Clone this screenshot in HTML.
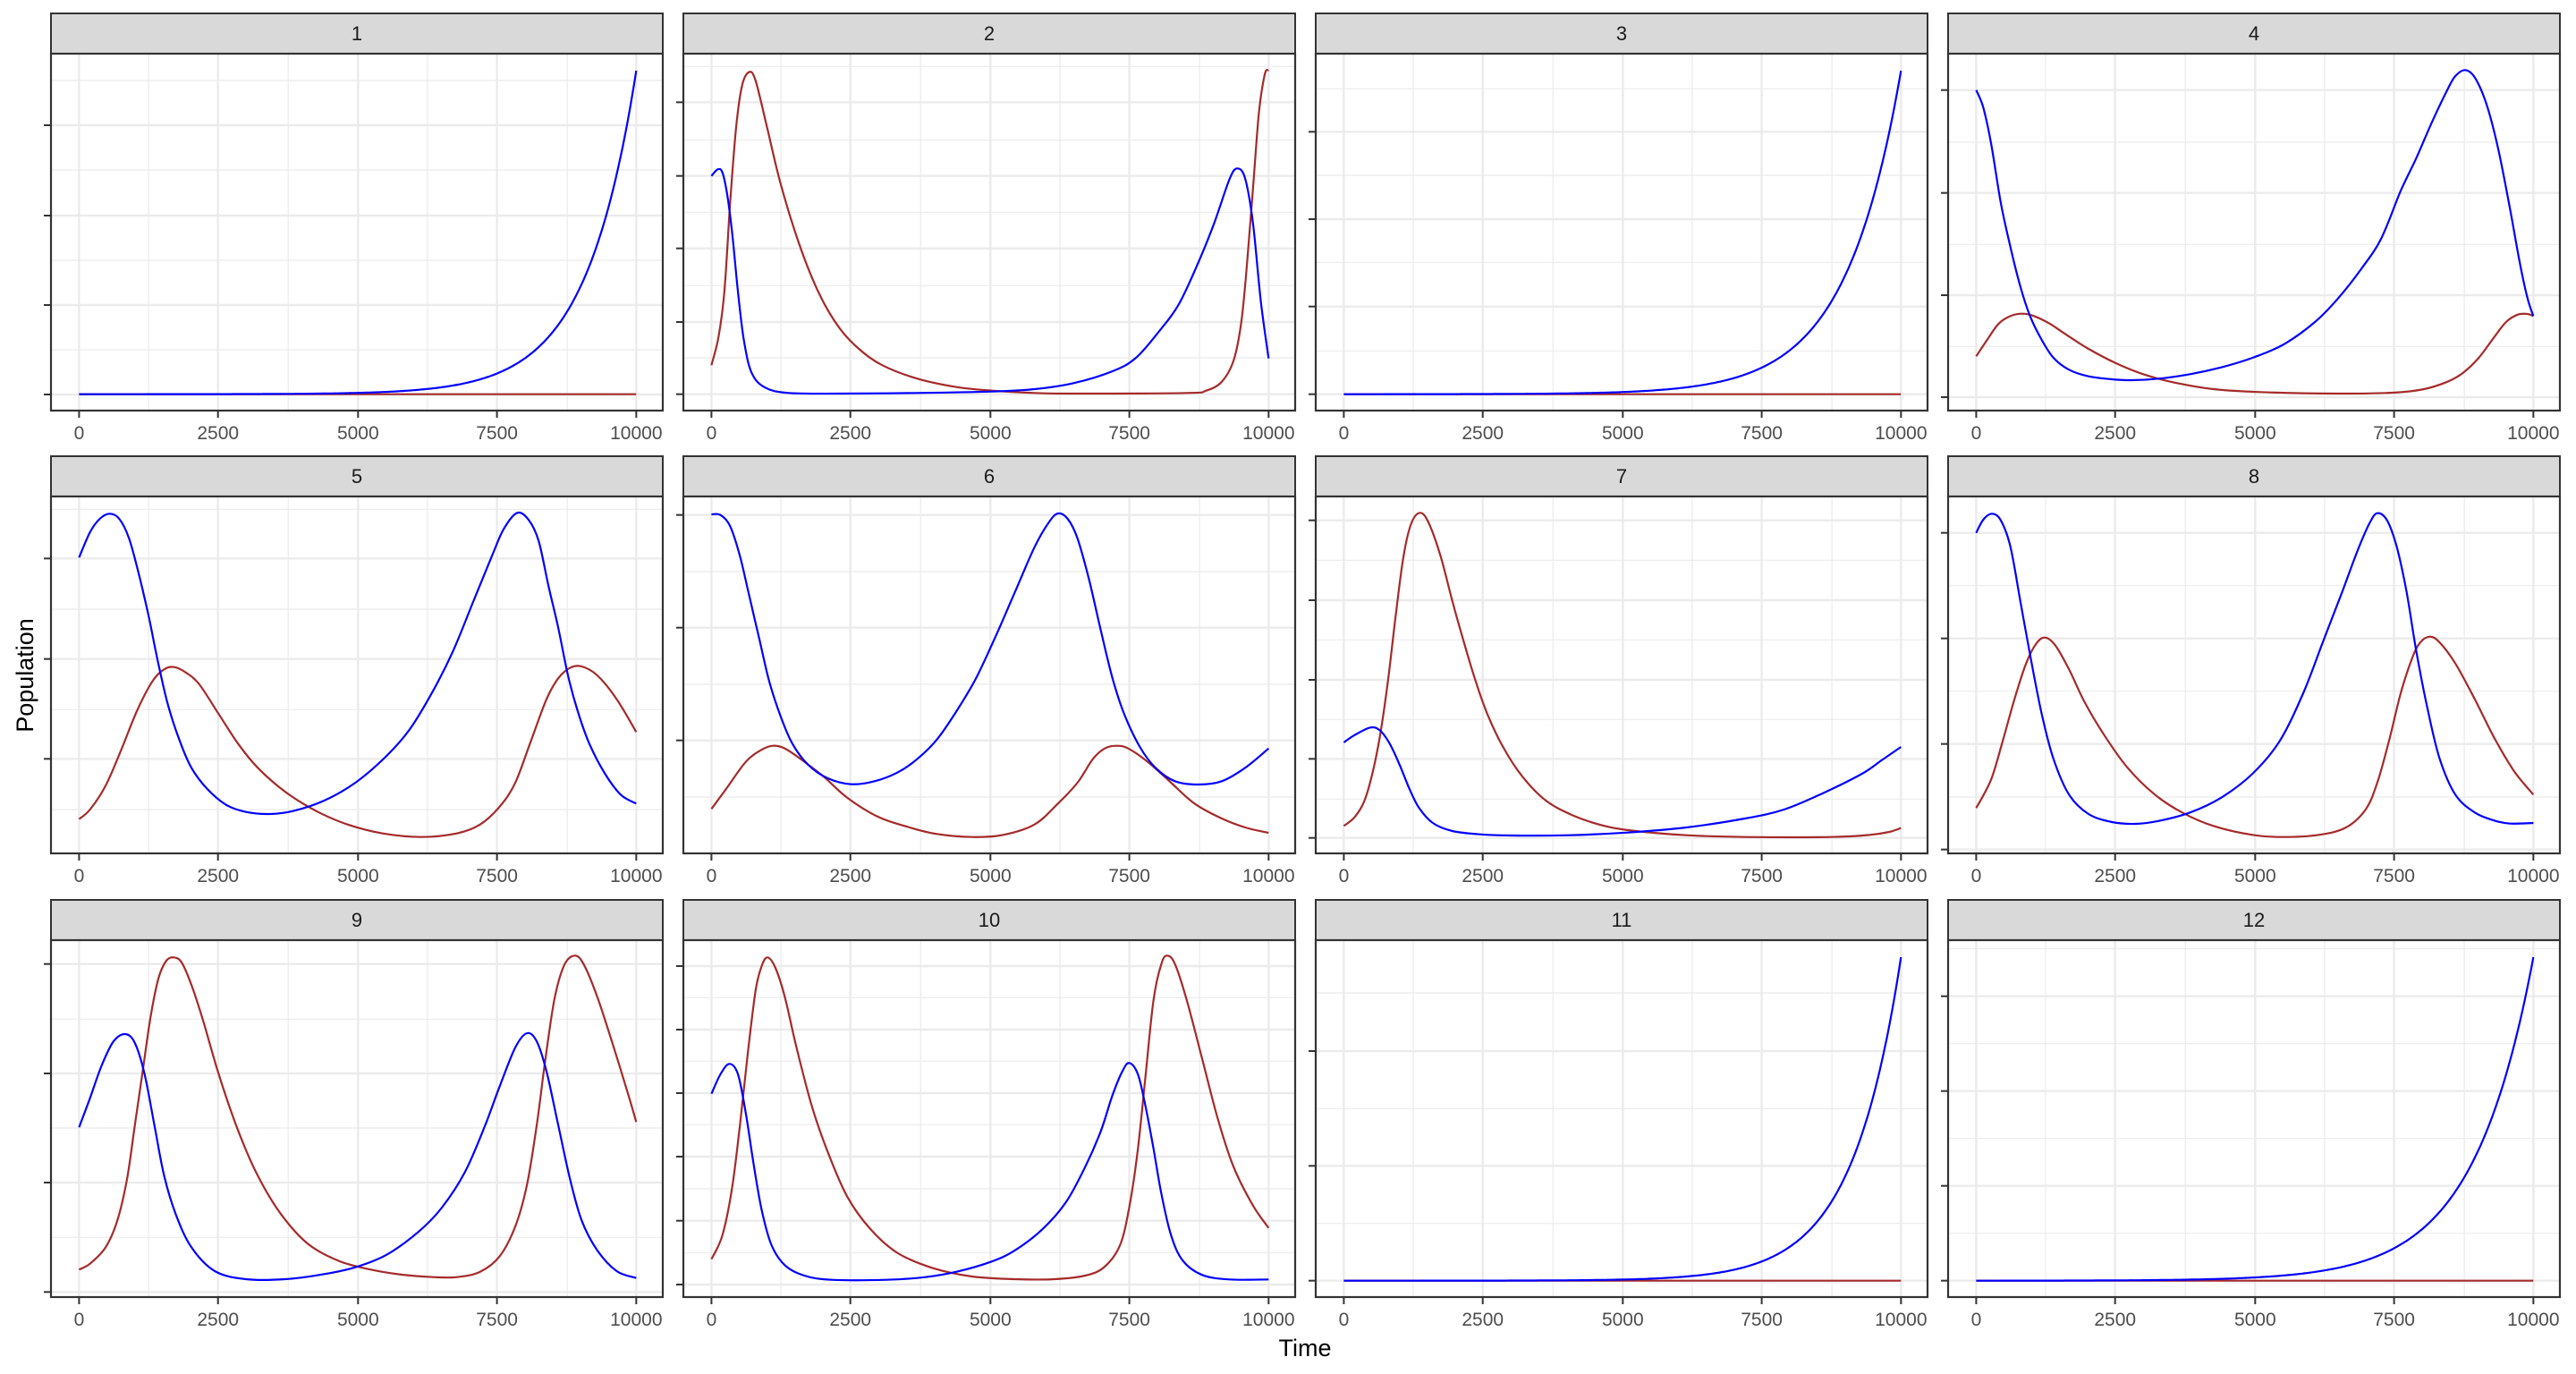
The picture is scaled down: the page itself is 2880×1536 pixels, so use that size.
<!DOCTYPE html>
<html><head><meta charset="utf-8"><style>
html,body{margin:0;padding:0;background:#fff;}
svg{display:block;}
text{font-family:"Liberation Sans",Arial,sans-serif;}
</style></head><body>
<svg id="s" width="2880" height="1536" xmlns="http://www.w3.org/2000/svg"></svg>
<script>
const cols=[57,764,1471,2178], rows=[15,510,1006], W=684, PH=399, SH=45;
const NS="http://www.w3.org/2000/svg";
const svg=document.getElementById('s');
let out='';
function px(X,c){return cols[c]+X*W/1568;}
function py(Y,r){return rows[r]+SH+Y/3;}
function smooth(pts,c,r){
  const P=pts.map(p=>[px(p[0],c),py(p[1],r)]);
  let d='M'+P[0][0].toFixed(1)+' '+P[0][1].toFixed(1);
  for(let i=0;i<P.length-1;i++){
    const p0=P[Math.max(0,i-1)],p1=P[i],p2=P[i+1],p3=P[Math.min(P.length-1,i+2)];
    const c1=[p1[0]+(p2[0]-p0[0])/6,p1[1]+(p2[1]-p0[1])/6];
    const c2=[p2[0]-(p3[0]-p1[0])/6,p2[1]-(p3[1]-p1[1])/6];
    d+=' C'+c1[0].toFixed(1)+' '+c1[1].toFixed(1)+' '+c2[0].toFixed(1)+' '+c2[1].toFixed(1)+' '+p2[0].toFixed(1)+' '+p2[1].toFixed(1);
  }
  return d;
}
function expPts(k){const a=[];for(let i=0;i<=200;i++){const t=i/200;const v=(Math.exp(k*t)-1)/(Math.exp(k)-1);a.push([72+t*1428,1142-v*1085]);}return a;}
const flat=[[72,1142],[1500,1142]];
const P={
1:{maj:[240,543,843,1143],min:[90,390,693,993],b:expPts(11),r:flat},
2:{maj:[163,410,653,900,1142],min:[43,290,532,778,1020],
b:[[72,410],[88,388],[100,398],[112,470],[125,600],[140,800],[155,960],[175,1070],[210,1120],[270,1138],[400,1140],[600,1138],[790,1133],[900,1125],[1000,1105],[1100,1065],[1160,1020],[1220,930],[1270,840],[1320,700],[1360,570],[1400,420],[1420,385],[1440,420],[1460,570],[1480,830],[1500,1022]],
r:[[72,1045],[90,950],[105,800],[120,500],[135,250],[150,110],[168,62],[185,90],[215,250],[250,440],[300,650],[350,810],[400,920],[450,990],[510,1045],[600,1090],[700,1118],[790,1130],[900,1138],[1000,1140],[1290,1138],[1340,1130],[1380,1100],[1410,1030],[1430,900],[1445,700],[1460,450],[1475,200],[1490,70],[1500,55]]},
3:{maj:[262,555,848,1142],min:[118,408,700,997],b:expPts(10),r:flat},
4:{maj:[122,467,810,1152],min:[297,640,982],
b:[[72,122],[90,180],[110,300],[135,500],[160,650],[185,780],[210,880],[240,960],[270,1020],[310,1060],[360,1082],[420,1092],[470,1095],[540,1090],[620,1075],[700,1052],[780,1020],[860,975],[940,900],[1000,820],[1060,720],[1110,620],[1160,460],[1200,350],[1240,230],[1280,120],[1300,75],[1325,55],[1350,80],[1380,170],[1410,320],[1440,520],[1465,700],[1485,820],[1500,880]],
r:[[72,1015],[100,960],[130,905],[160,880],[190,872],[220,880],[260,905],[300,940],[360,990],[430,1038],[500,1075],[580,1103],[680,1125],[800,1135],[1000,1140],[1140,1137],[1220,1125],[1280,1100],[1320,1070],[1360,1020],[1400,950],[1430,900],[1460,875],[1485,873],[1500,880]]},
5:{maj:[208,545,880],min:[43,378,715,1050],
b:[[72,205],[100,120],[125,75],[150,58],[175,75],[200,140],[225,260],[250,400],[275,560],[300,700],[330,820],[360,910],[400,980],[450,1035],[500,1058],[560,1065],[620,1055],[700,1020],[780,960],[860,870],[920,780],[980,650],[1030,520],[1080,360],[1130,200],[1160,110],[1195,55],[1225,80],[1250,150],[1275,300],[1300,440],[1325,600],[1350,720],[1380,830],[1420,930],[1460,1000],[1500,1030]],
r:[[72,1082],[100,1050],[140,970],[180,850],[220,720],[260,620],[290,580],[315,572],[345,590],[380,630],[430,730],[480,830],[530,910],[600,990],[680,1055],[760,1100],[850,1130],[950,1142],[1040,1130],[1100,1100],[1150,1040],[1190,960],[1230,820],[1270,680],[1300,610],[1330,575],[1360,570],[1400,600],[1450,680],[1500,790]]},
6:{maj:[62,440,818],min:[252,630,1008],
b:[[72,60],[95,62],[120,100],[145,200],[170,340],[195,480],[220,620],[250,740],[280,830],[320,900],[370,945],[430,965],[490,955],[550,925],[600,880],[650,815],[700,720],[750,610],[800,470],[850,320],[900,170],[935,90],[960,57],[985,75],[1010,140],[1040,280],[1070,450],[1100,610],[1130,730],[1170,840],[1210,910],[1260,955],[1320,966],[1380,955],[1440,910],[1500,845]],
r:[[72,1048],[110,980],[160,890],[200,850],[230,836],[260,845],[300,880],[360,940],[420,1010],[500,1075],[580,1110],[650,1132],[740,1142],[820,1135],[900,1100],[960,1030],[1010,960],[1050,880],[1080,845],[1110,836],[1140,845],[1190,890],[1250,960],[1310,1030],[1380,1080],[1440,1110],[1500,1128]]},
7:{maj:[80,348,615,880,1145],min:[214,481,748,1015],
b:[[72,825],[100,800],[140,775],[165,785],[190,830],[215,900],[240,980],[265,1045],[300,1095],[350,1122],[420,1133],[500,1137],[650,1136],[800,1127],[950,1110],[1100,1080],[1200,1050],[1300,995],[1400,930],[1450,885],[1500,840]],
r:[[72,1105],[100,1075],[125,1020],[145,930],[165,800],[185,620],[205,400],[225,200],[245,90],[268,55],[290,90],[320,200],[350,350],[380,490],[410,620],[440,730],[480,840],[530,940],[590,1020],[660,1070],[740,1105],[820,1122],[950,1136],[1100,1142],[1320,1142],[1420,1135],[1470,1125],[1500,1112]]},
8:{maj:[122,476,830,1184],min:[299,653,1008],
b:[[72,122],[90,78],[112,58],[135,80],[160,170],[185,350],[210,530],[240,730],[270,880],[310,1000],[360,1065],[420,1092],[480,1098],[540,1088],[620,1060],[700,1010],[780,930],[850,820],[910,660],[960,490],[1010,320],[1050,180],[1080,90],[1100,56],[1125,80],[1150,170],[1175,320],[1200,520],[1230,720],[1260,880],[1300,1000],[1350,1060],[1400,1087],[1440,1097],[1500,1095]],
r:[[72,1045],[110,950],[140,820],[170,680],[200,560],[225,495],[248,473],[275,500],[310,580],[350,690],[400,800],[460,910],[530,1000],[600,1060],[680,1105],[780,1135],[860,1142],[950,1135],[1020,1110],[1070,1050],[1100,960],[1130,820],[1160,660],[1190,540],[1210,490],[1235,470],[1260,490],[1300,560],[1350,680],[1400,810],[1450,920],[1500,1000]]},
9:{maj:[80,447,813,1180],min:[265,630,997],
b:[[72,628],[100,530],[130,420],[160,340],[190,315],[215,345],[240,450],[265,620],[290,790],[320,920],[360,1030],[420,1110],[500,1137],[600,1137],[700,1120],[780,1097],[860,1055],[940,980],[1000,900],[1060,780],[1110,630],[1150,490],[1190,360],[1220,312],[1245,340],[1270,440],[1300,620],[1330,800],[1360,940],[1400,1040],[1450,1110],[1500,1133]],
r:[[72,1105],[100,1085],[140,1030],[170,940],[195,800],[215,620],[235,440],[255,260],[275,130],[295,70],[315,58],[335,75],[360,150],[390,270],[430,450],[480,640],[530,790],[590,920],[660,1020],[740,1077],[820,1105],[900,1122],[980,1130],[1040,1130],[1100,1112],[1150,1060],[1190,960],[1220,820],[1245,620],[1265,420],[1290,200],[1315,85],[1342,52],[1365,80],[1400,190],[1440,350],[1480,520],[1500,610]]},
10:{maj:[87,300,513,726,941,1155],min:[193,406,619,834,1048],
b:[[72,515],[95,450],[118,415],[140,450],[160,580],[180,750],[200,900],[225,1020],[260,1090],[310,1125],[380,1139],[520,1139],[620,1130],[700,1112],[790,1078],[850,1040],[920,970],[980,880],[1030,760],[1070,640],[1100,520],[1125,440],[1143,412],[1165,450],[1185,560],[1205,700],[1225,850],[1250,990],[1280,1075],[1330,1123],[1400,1138],[1500,1138]],
r:[[72,1070],[100,990],[125,830],[145,620],[165,380],[185,170],[200,90],[215,58],[235,90],[260,190],[290,360],[330,560],[370,710],[420,860],[480,970],[550,1050],[640,1100],[740,1128],[850,1137],[950,1137],[1030,1125],[1080,1095],[1120,1020],[1145,880],[1165,700],[1185,450],[1205,200],[1225,80],[1240,52],[1260,80],[1290,200],[1330,400],[1370,600],[1410,760],[1460,890],[1500,965]]},
11:{maj:[372,757,1142],min:[177,565,950],b:expPts(11.3),r:flat},
12:{maj:[188,506,824,1142],min:[29,347,665,983],b:expPts(9.2),r:flat}
};
const vmaj=[72,428,787,1143,1500], vmin=[250,608,965,1323];
const labs=['0','2500','5000','7500','10000'];
for(let n=1;n<=12;n++){
  const c=(n-1)%4, r=Math.floor((n-1)/4), p=P[n];
  const L=cols[c], T=rows[r]+SH, B=T+PH, R=L+W;
  // strip
  out+=`<rect x="${L}" y="${rows[r]}" width="${W}" height="${SH}" fill="#D9D9D9" stroke="#333" stroke-width="2"/>`;
  out+=`<text x="${L+W/2}" y="${rows[r]+30}" font-size="22" fill="#1A1A1A" text-anchor="middle">${n}</text>`;
  // minor grid
  p.min.forEach(Y=>{const y=py(Y,r);if(y>T&&y<B)out+=`<line x1="${L}" x2="${R}" y1="${y}" y2="${y}" stroke="#EBEBEB" stroke-width="1.2"/>`;});
  vmin.forEach(X=>{const x=px(X,c);out+=`<line x1="${x}" x2="${x}" y1="${T}" y2="${B}" stroke="#EBEBEB" stroke-width="1.2"/>`;});
  p.maj.forEach(Y=>{const y=py(Y,r);if(y>T&&y<B){out+=`<line x1="${L}" x2="${R}" y1="${y}" y2="${y}" stroke="#EBEBEB" stroke-width="2.4"/>`;out+=`<line x1="${L-8}" x2="${L}" y1="${y}" y2="${y}" stroke="#333" stroke-width="2"/>`;}});
  vmaj.forEach((X,i)=>{const x=px(X,c);out+=`<line x1="${x}" x2="${x}" y1="${T}" y2="${B}" stroke="#EBEBEB" stroke-width="2.4"/>`;
    out+=`<line x1="${x}" x2="${x}" y1="${B}" y2="${B+8}" stroke="#333" stroke-width="2"/>`;
    out+=`<text x="${x}" y="${B+32}" font-size="21" fill="#4D4D4D" text-anchor="middle">${labs[i]}</text>`;});
  out+=`<path d="${smooth(p.r,c,r)}" fill="none" stroke="#A52A2A" stroke-width="2.2"/>`;
  out+=`<path d="${smooth(p.b,c,r)}" fill="none" stroke="#0000FF" stroke-width="2.2"/>`;
  out+=`<rect x="${L}" y="${T}" width="${W}" height="${PH}" fill="none" stroke="#333" stroke-width="2.2"/>`;
}
out+=`<text x="1459" y="1516" font-size="27" fill="#000" text-anchor="middle">Time</text>`;
out+=`<text transform="translate(37,755) rotate(-90)" font-size="27" fill="#000" text-anchor="middle">Population</text>`;
svg.innerHTML=out;
</script>
</body></html>
